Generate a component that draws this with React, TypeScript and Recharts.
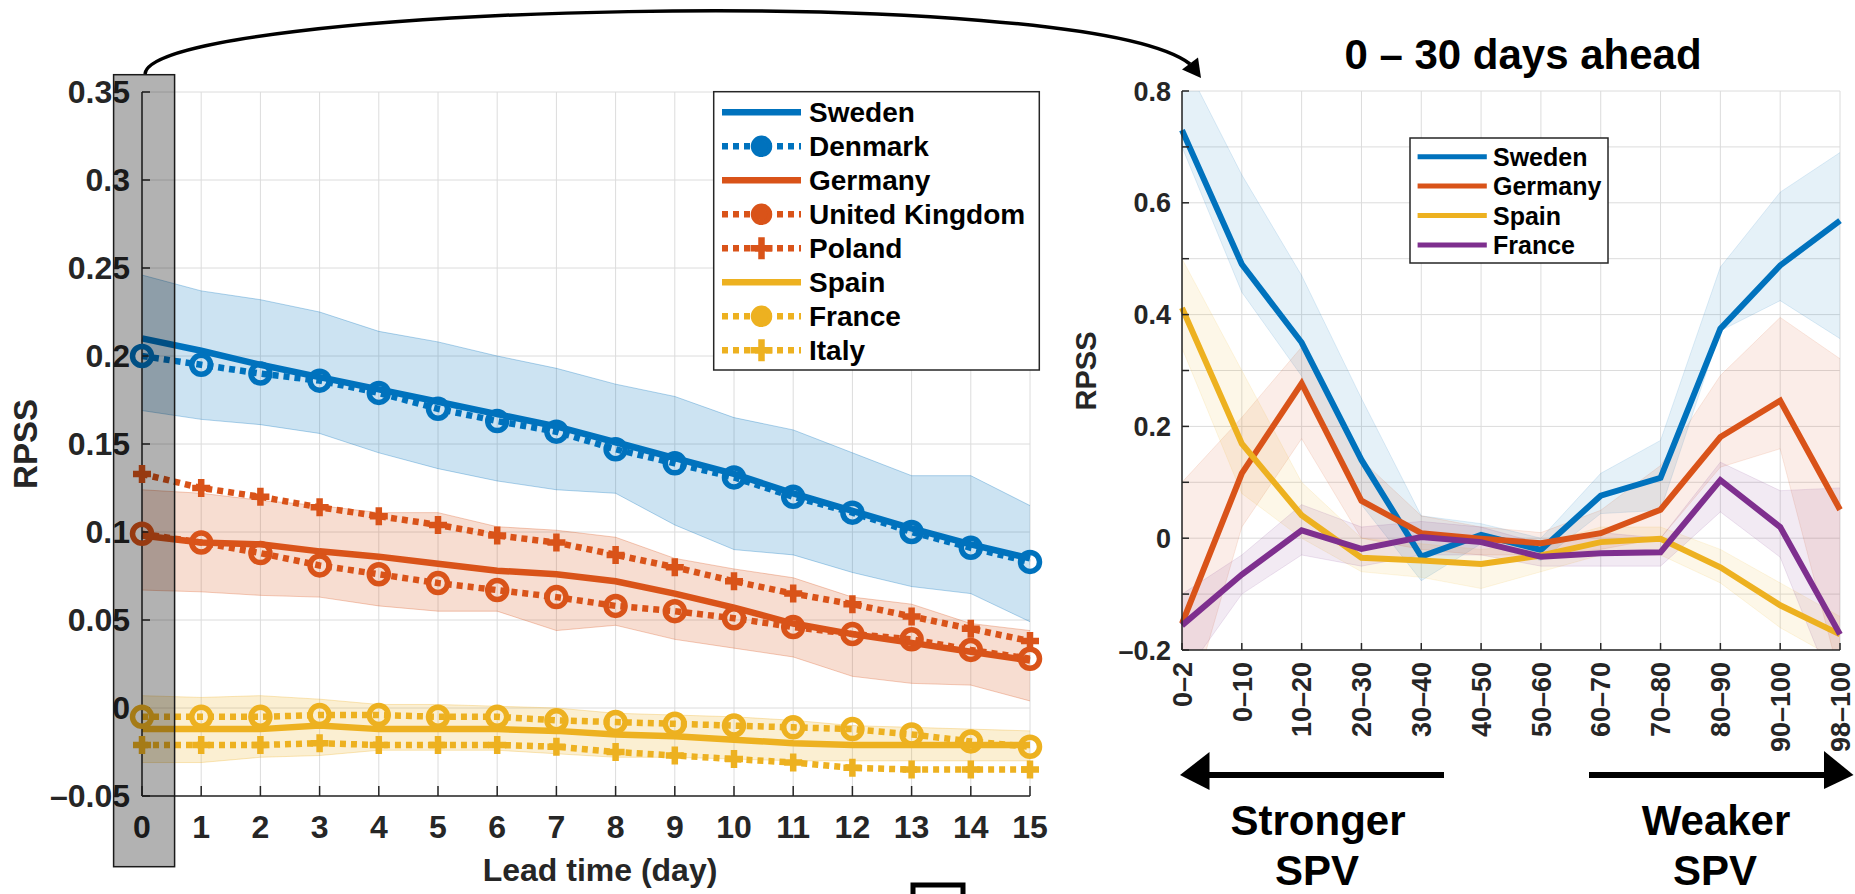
import { ComposedChart, Line, Area, XAxis, YAxis, CartesianGrid } from 'recharts'

// ---- left panel: RPSS vs lead time ----
const leadDays = [0, 1, 2, 3, 4, 5, 6, 7, 8, 9, 10, 11, 12, 13, 14, 15]
const leftTicks = [-0.05, 0, 0.05, 0.1, 0.15, 0.2, 0.25, 0.3, 0.35]

const sweden = [0.210, 0.203, 0.195, 0.188, 0.181, 0.174, 0.167, 0.160, 0.151, 0.142, 0.133, 0.122, 0.112, 0.102, 0.093, 0.085]
const swedenHi = [0.246, 0.237, 0.232, 0.225, 0.214, 0.208, 0.200, 0.193, 0.184, 0.177, 0.165, 0.158, 0.145, 0.132, 0.132, 0.115]
const swedenLo = [0.169, 0.164, 0.161, 0.156, 0.145, 0.136, 0.129, 0.124, 0.122, 0.104, 0.090, 0.087, 0.077, 0.069, 0.065, 0.049]
const denmark = [0.200, 0.195, 0.190, 0.186, 0.179, 0.170, 0.163, 0.157, 0.147, 0.139, 0.131, 0.120, 0.111, 0.100, 0.091, 0.083]

const germany = [0.098, 0.094, 0.093, 0.089, 0.086, 0.082, 0.078, 0.076, 0.072, 0.065, 0.057, 0.048, 0.042, 0.037, 0.032, 0.027]
const germanyHi = [0.124, 0.122, 0.118, 0.115, 0.111, 0.111, 0.103, 0.101, 0.097, 0.085, 0.079, 0.074, 0.063, 0.059, 0.048, 0.044]
const germanyLo = [0.067, 0.066, 0.064, 0.063, 0.058, 0.055, 0.055, 0.044, 0.047, 0.039, 0.034, 0.029, 0.018, 0.014, 0.013, 0.004]
const unitedKingdom = [0.099, 0.094, 0.088, 0.081, 0.076, 0.071, 0.067, 0.063, 0.058, 0.055, 0.051, 0.046, 0.042, 0.039, 0.033, 0.028]
const poland = [0.133, 0.125, 0.120, 0.114, 0.109, 0.104, 0.098, 0.094, 0.087, 0.080, 0.072, 0.065, 0.059, 0.052, 0.045, 0.038]

const spain = [-0.012, -0.012, -0.012, -0.010, -0.012, -0.012, -0.012, -0.013, -0.015, -0.016, -0.018, -0.020, -0.021, -0.021, -0.021, -0.021]
const spainHi = [0.007, 0.006, 0.007, 0.005, 0.002, 0.002, 0.001, 0.000, -0.003, -0.004, -0.005, -0.007, -0.010, -0.011, -0.012, -0.013]
const spainLo = [-0.031, -0.031, -0.028, -0.027, -0.024, -0.024, -0.024, -0.026, -0.028, -0.028, -0.029, -0.030, -0.030, -0.030, -0.030, -0.030]
const france = [-0.005, -0.005, -0.005, -0.004, -0.004, -0.005, -0.005, -0.007, -0.008, -0.009, -0.010, -0.011, -0.012, -0.015, -0.019, -0.022]
const italy = [-0.021, -0.021, -0.021, -0.020, -0.021, -0.021, -0.021, -0.022, -0.025, -0.027, -0.029, -0.031, -0.034, -0.035, -0.035, -0.035]

const leftNames = ['Sweden', 'Denmark', 'Germany', 'United Kingdom', 'Poland', 'Spain', 'France', 'Italy']

// ---- right panel: RPSS vs SPV percentile bin ----
const spvBins = ['0–2', '0–10', '10–20', '20–30', '30–40', '40–50', '50–60', '60–70', '70–80', '80–90', '90–100', '98–100']
const rightTicks = [-0.2, -0.1, 0, 0.1, 0.2, 0.3, 0.4, 0.5, 0.6, 0.7, 0.8]

const swedenSpv = [0.73, 0.49, 0.35, 0.14, -0.033, 0.006, -0.021, 0.076, 0.108, 0.375, 0.488, 0.568]
const swedenSpvHi = [0.86, 0.65, 0.47, 0.25, 0.04, 0.026, 0.0, 0.116, 0.175, 0.485, 0.619, 0.69]
const swedenSpvLo = [0.70, 0.44, 0.29, 0.06, -0.076, -0.01, -0.04, 0.044, 0.05, 0.371, 0.425, 0.357]
const germanySpv = [-0.153, 0.116, 0.277, 0.067, 0.009, -0.001, -0.009, 0.009, 0.051, 0.181, 0.246, 0.051]
const germanySpvHi = [0.10, 0.216, 0.342, 0.14, 0.04, 0.02, 0.01, 0.05, 0.13, 0.291, 0.395, 0.321]
const germanySpvLo = [-0.35, 0.02, 0.178, 0.0, -0.02, -0.03, -0.03, -0.02, 0.0, 0.127, 0.16, -0.25]
const spainSpv = [0.412, 0.169, 0.041, -0.035, -0.04, -0.046, -0.031, -0.007, -0.001, -0.052, -0.12, -0.172]
const spainSpvHi = [0.50, 0.30, 0.10, 0.0, -0.01, -0.02, -0.01, 0.02, 0.02, -0.02, -0.08, -0.14]
const spainSpvLo = [0.34, 0.08, 0.0, -0.06, -0.07, -0.09, -0.06, -0.03, -0.03, -0.08, -0.16, -0.22]
const franceSpv = [-0.156, -0.065, 0.014, -0.019, 0.002, -0.007, -0.033, -0.027, -0.025, 0.104, 0.02, -0.172]
const franceSpvHi = [-0.10, -0.03, 0.06, 0.02, 0.03, 0.02, -0.01, 0.01, 0.0, 0.136, 0.085, 0.09]
const franceSpvLo = [-0.25, -0.10, -0.03, -0.05, -0.03, -0.03, -0.05, -0.05, -0.05, 0.047, -0.034, -0.3]

const rightNames = ['Sweden', 'Germany', 'Spain', 'France']

const BLUE = '#0072BD'
const RED = '#D95319'
const YELLOW = '#EDB120'
const PURPLE = '#7E2F8E'
const INK = '#262626'
const GRID = '#dcdcdc'
const FONT = '"Liberation Sans", Arial, Helvetica, sans-serif'
const DOTTED = '6 5'

const leftData = leadDays.map((day, i) => ({
  day,
  sweden: sweden[i],
  swedenBand: [swedenLo[i], swedenHi[i]],
  denmark: denmark[i],
  germany: germany[i],
  germanyBand: [germanyLo[i], germanyHi[i]],
  uk: unitedKingdom[i],
  poland: poland[i],
  spain: spain[i],
  spainBand: [spainLo[i], spainHi[i]],
  france: france[i],
  italy: italy[i],
}))

const rightData = spvBins.map((_, i) => ({
  bin: i,
  sweden: swedenSpv[i],
  swedenBand: [swedenSpvLo[i], swedenSpvHi[i]],
  germany: germanySpv[i],
  germanyBand: [germanySpvLo[i], germanySpvHi[i]],
  spain: spainSpv[i],
  spainBand: [spainSpvLo[i], spainSpvHi[i]],
  france: franceSpv[i],
  franceBand: [franceSpvLo[i], franceSpvHi[i]],
}))

// marker styles for the left legend / lines
const leftStyle = [
  { color: BLUE, dashed: false, marker: '' },
  { color: BLUE, dashed: true, marker: 'o' },
  { color: RED, dashed: false, marker: '' },
  { color: RED, dashed: true, marker: 'o' },
  { color: RED, dashed: true, marker: '+' },
  { color: YELLOW, dashed: false, marker: '' },
  { color: YELLOW, dashed: true, marker: 'o' },
  { color: YELLOW, dashed: true, marker: '+' },
]
const rightColors = [BLUE, RED, YELLOW, PURPLE]

const Ring = ({ cx, cy, color, r = 9.5 }: { cx: number; cy: number; color: string; r?: number }) => (
  <circle cx={cx} cy={cy} r={r} fill="none" stroke={color} strokeWidth={5.5} />
)
const Plus = ({ cx, cy, color, a = 9 }: { cx: number; cy: number; color: string; a?: number }) => (
  <path d={`M${cx - a},${cy}H${cx + a}M${cx},${cy - a}V${cy + a}`} stroke={color} strokeWidth={6.5} fill="none" />
)

const ringDot = (color: string) => (p: any) => <Ring key={`o${p.index}`} cx={p.cx} cy={p.cy} color={color} />
const plusDot = (color: string) => (p: any) => <Plus key={`p${p.index}`} cx={p.cx} cy={p.cy} color={color} />

const fmtLeft = (v: number) => {
  const s = String(parseFloat(Math.abs(v).toFixed(2)))
  return v < 0 ? '–' + s : s
}
const fmtRight = (v: number) => {
  const k = Math.round(v * 10)
  if (k % 2 !== 0) return ''
  if (k === 0) return '0'
  return (k < 0 ? '–' : '') + String(Math.abs(k) / 10)
}

const SpvTick = (p: any) => (
  <text
    x={p.x}
    y={p.y}
    transform={`rotate(-90 ${p.x} ${p.y})`}
    textAnchor="end"
    dy="0.36em"
    fontSize={27}
    fontWeight="bold"
    fontFamily={FONT}
    fill={INK}
  >
    {spvBins[p.payload.value]}
  </text>
)

const leftTickStyle = { fontSize: 32, fontWeight: 'bold', fill: INK, fontFamily: FONT }
const rightTickStyle = { fontSize: 27, fontWeight: 'bold', fill: INK, fontFamily: FONT }
const axisLine = { stroke: INK, strokeWidth: 1.5 }

function LeadTimeChart() {
  return (
    <ComposedChart width={1100} height={894} data={leftData} margin={{ top: 92, right: 70, bottom: 38, left: 42 }}>
      <CartesianGrid stroke={GRID} strokeWidth={1} />
      <XAxis
        type="number"
        dataKey="day"
        domain={[0, 15]}
        ticks={leadDays}
        interval={0}
        height={60}
        tickSize={-10}
        tickMargin={29}
        tick={leftTickStyle}
        axisLine={axisLine}
        tickLine={axisLine}
      />
      <YAxis
        type="number"
        domain={[-0.05, 0.35]}
        ticks={leftTicks}
        interval={0}
        allowDataOverflow
        width={100}
        tickSize={-8}
        tickMargin={20}
        tickFormatter={fmtLeft}
        tick={leftTickStyle}
        axisLine={axisLine}
        tickLine={axisLine}
      />
      <Area type="linear" dataKey="swedenBand" fill={BLUE} fillOpacity={0.2} stroke={BLUE} strokeOpacity={0.3} strokeWidth={1} isAnimationActive={false} activeDot={false} />
      <Area type="linear" dataKey="germanyBand" fill={RED} fillOpacity={0.2} stroke={RED} strokeOpacity={0.3} strokeWidth={1} isAnimationActive={false} activeDot={false} />
      <Area type="linear" dataKey="spainBand" fill={YELLOW} fillOpacity={0.2} stroke={YELLOW} strokeOpacity={0.3} strokeWidth={1} isAnimationActive={false} activeDot={false} />

      <Line type="linear" dataKey="italy" stroke={YELLOW} strokeWidth={6.5} strokeDasharray={DOTTED} dot={plusDot(YELLOW)} activeDot={false} isAnimationActive={false} />
      <Line type="linear" dataKey="france" stroke={YELLOW} strokeWidth={6.5} strokeDasharray={DOTTED} dot={ringDot(YELLOW)} activeDot={false} isAnimationActive={false} />
      <Line type="linear" dataKey="spain" stroke={YELLOW} strokeWidth={6.5} dot={false} activeDot={false} isAnimationActive={false} />
      <Line type="linear" dataKey="poland" stroke={RED} strokeWidth={6.5} strokeDasharray={DOTTED} dot={plusDot(RED)} activeDot={false} isAnimationActive={false} />
      <Line type="linear" dataKey="uk" stroke={RED} strokeWidth={6.5} strokeDasharray={DOTTED} dot={ringDot(RED)} activeDot={false} isAnimationActive={false} />
      <Line type="linear" dataKey="germany" stroke={RED} strokeWidth={6.5} dot={false} activeDot={false} isAnimationActive={false} />
      <Line type="linear" dataKey="denmark" stroke={BLUE} strokeWidth={6.5} strokeDasharray={DOTTED} dot={ringDot(BLUE)} activeDot={false} isAnimationActive={false} />
      <Line type="linear" dataKey="sweden" stroke={BLUE} strokeWidth={6.5} dot={false} activeDot={false} isAnimationActive={false} />
    </ComposedChart>
  )
}

function SpvChart() {
  return (
    <ComposedChart width={775} height={894} data={rightData} margin={{ top: 91, right: 15, bottom: 104, left: 22 }}>
      <CartesianGrid stroke={GRID} strokeWidth={1} />
      <XAxis
        type="number"
        dataKey="bin"
        domain={[0, 11]}
        ticks={spvBins.map((_, i) => i)}
        interval={0}
        height={140}
        tickSize={-7}
        tickMargin={19}
        tick={SpvTick}
        axisLine={axisLine}
        tickLine={axisLine}
      />
      <YAxis
        type="number"
        domain={[-0.2, 0.8]}
        ticks={rightTicks}
        interval={0}
        allowDataOverflow
        width={80}
        tickSize={-7}
        tickMargin={18}
        tickFormatter={fmtRight}
        tick={rightTickStyle}
        axisLine={axisLine}
        tickLine={axisLine}
      />
      <Area type="linear" dataKey="swedenBand" fill={BLUE} fillOpacity={0.1} stroke={BLUE} strokeOpacity={0.12} strokeWidth={1} isAnimationActive={false} activeDot={false} />
      <Area type="linear" dataKey="germanyBand" fill={RED} fillOpacity={0.1} stroke={RED} strokeOpacity={0.12} strokeWidth={1} isAnimationActive={false} activeDot={false} />
      <Area type="linear" dataKey="spainBand" fill={YELLOW} fillOpacity={0.1} stroke={YELLOW} strokeOpacity={0.12} strokeWidth={1} isAnimationActive={false} activeDot={false} />
      <Area type="linear" dataKey="franceBand" fill={PURPLE} fillOpacity={0.1} stroke={PURPLE} strokeOpacity={0.12} strokeWidth={1} isAnimationActive={false} activeDot={false} />

      <Line type="linear" dataKey="sweden" stroke={BLUE} strokeWidth={6} dot={false} activeDot={false} isAnimationActive={false} />
      <Line type="linear" dataKey="germany" stroke={RED} strokeWidth={6} dot={false} activeDot={false} isAnimationActive={false} />
      <Line type="linear" dataKey="spain" stroke={YELLOW} strokeWidth={6} dot={false} activeDot={false} isAnimationActive={false} />
      <Line type="linear" dataKey="france" stroke={PURPLE} strokeWidth={6} dot={false} activeDot={false} isAnimationActive={false} />
    </ComposedChart>
  )
}

// titles, legends, arrows and the highlight box drawn on top
function Annotations() {
  const bold = { fontFamily: FONT, fontWeight: 'bold' as const }
  return (
    <svg width={1855} height={894} style={{ position: 'absolute', left: 0, top: 0, pointerEvents: 'none' }}>
      {/* highlighted lead day 0 */}
      <rect x={113.6} y={74.7} width={61} height={792} fill="#000" fillOpacity={0.3} stroke="#1a1a1a" strokeWidth={1.5} />

      {/* curved arrow to the right panel */}
      <path d="M145,74 C150,5 1080,-20 1190,64" fill="none" stroke="#000" strokeWidth={3.5} />
      <polygon points="1201,78 1182,69.6 1198,57.6" fill="#000" />

      {/* axis titles */}
      <text x={25} y={444} transform="rotate(-90 25 444)" textAnchor="middle" dy="0.36em" fontSize={33} fill={INK} {...bold}>RPSS</text>
      <text x={600} y={881} textAnchor="middle" fontSize={32} fill={INK} {...bold}>Lead time (day)</text>
      <text x={1086} y={371} transform="rotate(-90 1086 371)" textAnchor="middle" dy="0.36em" fontSize={29} fill={INK} {...bold}>RPSS</text>
      <text x={1523} y={69} textAnchor="middle" fontSize={42} fill="#000" {...bold}>0 – 30 days ahead</text>

      {/* left legend */}
      <rect x={713.7} y={91.7} width={325.6} height={278.3} fill="#fff" stroke={INK} strokeWidth={1.5} />
      {leftNames.map((name, i) => {
        const s = leftStyle[i]
        const cy = 112.3 + i * 34
        return (
          <g key={name}>
            <line x1={722} x2={801} y1={cy} y2={cy} stroke={s.color} strokeWidth={6.5} strokeDasharray={s.dashed ? DOTTED : undefined} />
            {s.marker === 'o' && <Ring cx={761.5} cy={cy} color={s.color} r={8} />}
            {s.marker === 'o' && <circle cx={761.5} cy={cy} r={6} fill={s.color} />}
            {s.marker === '+' && <Plus cx={761.5} cy={cy} color={s.color} a={11} />}
            <text x={809} y={cy + 10} fontSize={28} fill="#000" {...bold}>{name}</text>
          </g>
        )
      })}

      {/* right legend */}
      <rect x={1410} y={138} width={198} height={125} fill="#fff" stroke={INK} strokeWidth={1.5} />
      {rightNames.map((name, i) => {
        const cy = 156.7 + i * 29.4
        return (
          <g key={name}>
            <line x1={1417.6} x2={1486.8} y1={cy} y2={cy} stroke={rightColors[i]} strokeWidth={5} />
            <text x={1493} y={cy + 9} fontSize={25} fill="#000" {...bold}>{name}</text>
          </g>
        )
      })}

      {/* stronger / weaker SPV arrows */}
      <line x1={1205} x2={1444} y1={775} y2={775} stroke="#000" strokeWidth={6} />
      <polygon points="1180,775 1209.5,752 1209.5,790" fill="#000" />
      <line x1={1589} x2={1828} y1={775} y2={775} stroke="#000" strokeWidth={6} />
      <polygon points="1853.5,775 1824,751 1824,789" fill="#000" />
      <text x={1318} y={835} textAnchor="middle" fontSize={42} fill="#000" {...bold}>Stronger</text>
      <text x={1317} y={885} textAnchor="middle" fontSize={42} fill="#000" {...bold}>SPV</text>
      <text x={1716} y={835} textAnchor="middle" fontSize={42} fill="#000" {...bold}>Weaker</text>
      <text x={1715} y={885} textAnchor="middle" fontSize={42} fill="#000" {...bold}>SPV</text>

      {/* partly visible box at the bottom edge */}
      <rect x={913} y={885} width={50} height={40} fill="none" stroke="#000" strokeWidth={5} />
    </svg>
  )
}

export default function App() {
  return (
    <div style={{ position: 'absolute', left: 0, top: 0, width: 1855, height: 894, background: '#fff', overflow: 'hidden' }}>
      <div style={{ position: 'absolute', left: 0, top: 0 }}>
        <LeadTimeChart />
      </div>
      <div style={{ position: 'absolute', left: 1080, top: 0 }}>
        <SpvChart />
      </div>
      <Annotations />
    </div>
  )
}
